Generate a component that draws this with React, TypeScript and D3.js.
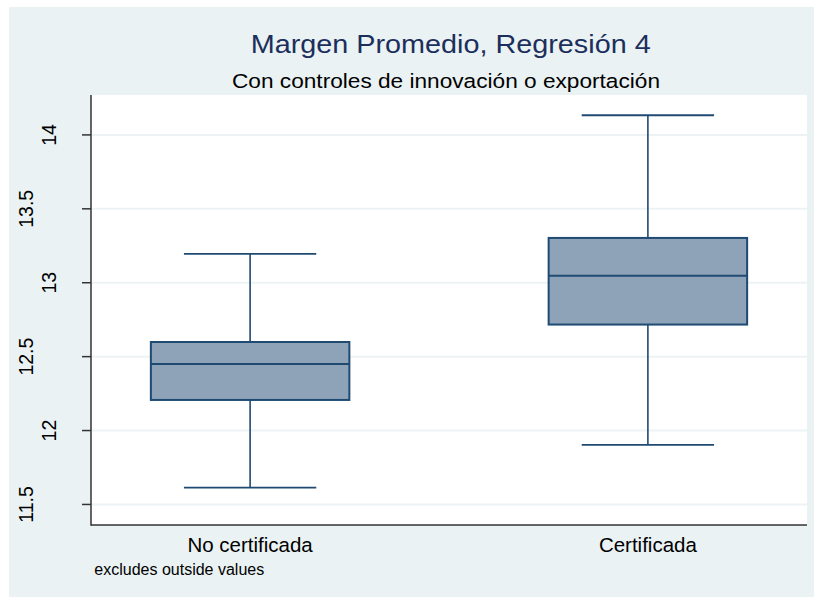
import React from "react";
import * as d3 from "d3";

const categories = ["No certificada", "Certificada"];
const lowerWhisker = [11.614, 11.903];
const q1 = [12.207, 12.717];
const median = [12.451, 13.048];
const q3 = [12.599, 13.303];
const upperWhisker = [13.195, 14.133];
const yTicks = [11.5, 12, 12.5, 13, 13.5, 14];
const yTickLabels = ["11.5", "12", "12.5", "13", "13.5", "14"];

const W = 814;
const H = 598;
const FONT = "'Liberation Sans', Arial, Helvetica, sans-serif";

export default function App() {
  const left = 91, right = 807, top = 95, bottom = 525;
  const y = d3.scaleLinear().domain([11.361, 14.27]).range([bottom, top]);
  const x = d3.scalePoint<string>().domain(categories).range([left, right]).padding(0.4);
  const boxW = 198.5;
  const capW = boxW * (2 / 3);
  const navy = "#1c2f5c";
  const boxStroke = "#1f4a72";
  const boxFill = "#8ea3b8";
  const grid = "#edf3f4";
  const axis = "#333333";

  return (
    <svg
      width={W}
      height={H}
      style={{ position: "absolute", left: 0, top: 0, display: "block" }}
      fontFamily={FONT}
    >
      <rect x={0} y={0} width={W} height={H} fill="#ffffff" />
      <rect x={9} y={7} width={W - 9} height={597 - 7} fill="#eaf2f3" />
      <rect x={left} y={top} width={right - left} height={bottom - top} fill="#ffffff" />

      {yTicks.map((t) => (
        <line key={"g" + t} x1={left} x2={right} y1={y(t)} y2={y(t)} stroke={grid} strokeWidth={2} />
      ))}

      {categories.map((c, i) => {
        const cx = x(c)!;
        return (
          <g key={c}>
            <line x1={cx} x2={cx} y1={y(upperWhisker[i])} y2={y(q3[i])} stroke={boxStroke} strokeWidth={1.6} />
            <line x1={cx} x2={cx} y1={y(q1[i])} y2={y(lowerWhisker[i])} stroke={boxStroke} strokeWidth={1.6} />
            <line x1={cx - capW / 2} x2={cx + capW / 2} y1={y(upperWhisker[i])} y2={y(upperWhisker[i])} stroke={boxStroke} strokeWidth={1.8} />
            <line x1={cx - capW / 2} x2={cx + capW / 2} y1={y(lowerWhisker[i])} y2={y(lowerWhisker[i])} stroke={boxStroke} strokeWidth={1.8} />
            <rect
              x={cx - boxW / 2}
              y={y(q3[i])}
              width={boxW}
              height={y(q1[i]) - y(q3[i])}
              fill={boxFill}
              stroke={boxStroke}
              strokeWidth={2}
            />
            <line x1={cx - boxW / 2} x2={cx + boxW / 2} y1={y(median[i])} y2={y(median[i])} stroke={boxStroke} strokeWidth={2} />
          </g>
        );
      })}

      <line x1={left} x2={left} y1={top} y2={bottom + 0.75} stroke={axis} strokeWidth={1.5} />
      <line x1={left} x2={right} y1={bottom} y2={bottom} stroke={axis} strokeWidth={1.5} />
      {yTicks.map((t, i) => {
        const ty = y(t);
        const lab = yTickLabels[i];
        const cx = left - 42 - (lab.length - 2) * 11.3;
        return (
          <g key={"t" + t}>
            <line x1={left - 9} x2={left} y1={ty} y2={ty} stroke={axis} strokeWidth={1.5} />
            <text
              x={cx}
              y={ty}
              transform={`rotate(-90 ${cx} ${ty})`}
              textAnchor="middle"
              dominantBaseline="central"
              fontSize={19.5}
              fill="#000000"
            >
              {lab}
            </text>
          </g>
        );
      })}

      {categories.map((c) => (
        <text key={"xl" + c} x={x(c)!} y={551.5} textAnchor="middle" fontSize={20.5} fill="#000000">
          {c}
        </text>
      ))}

      <text x={450.7} y={53.3} textAnchor="middle" fontSize={26.5} fill={navy} textLength={400} lengthAdjust="spacingAndGlyphs">
        Margen Promedio, Regresión 4
      </text>
      <text x={446} y={87.5} textAnchor="middle" fontSize={20.5} fill="#000000" textLength={428} lengthAdjust="spacingAndGlyphs">
        Con controles de innovación o exportación
      </text>
      <text x={94.3} y={575} fontSize={16} fill="#000000">
        excludes outside values
      </text>
    </svg>
  );
}
